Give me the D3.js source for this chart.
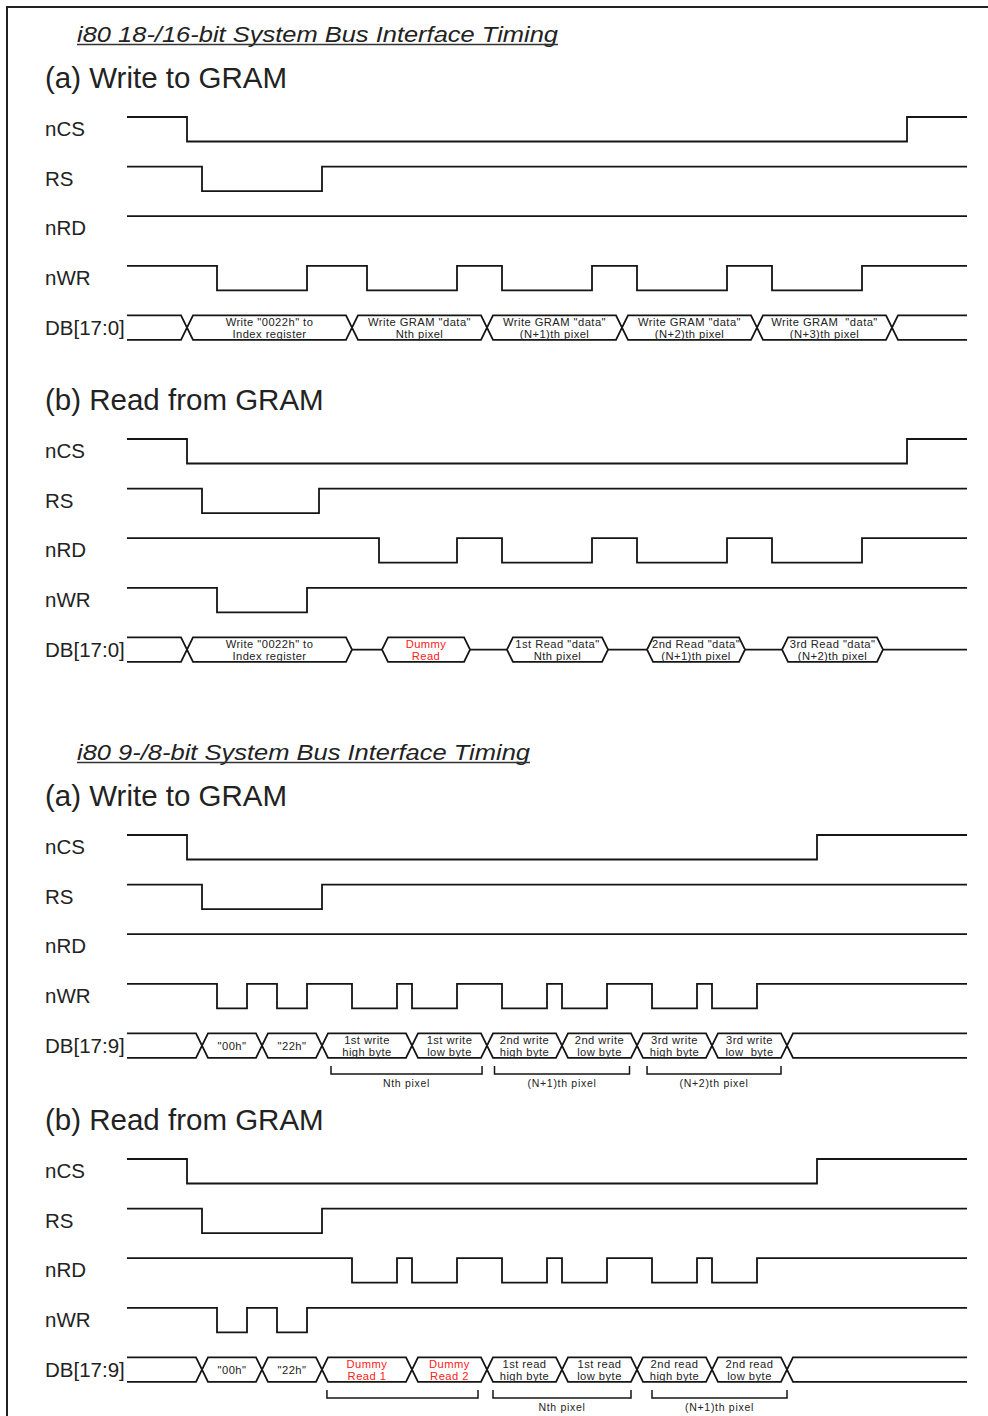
<!DOCTYPE html>
<html><head><meta charset="utf-8">
<script src="https://cdn.jsdelivr.net/npm/d3@7"></script>
<style>html,body{margin:0;padding:0;background:#fff;}svg{display:block;}</style>
</head><body>
<script>
// ---------- DATA ----------
const sectionTitles = ["i80 18-/16-bit System Bus Interface Timing", "i80 9-/8-bit System Bus Interface Timing"];
const panelTitles = ["(a) Write to GRAM", "(b) Read from GRAM", "(a) Write to GRAM", "(b) Read from GRAM"];
const signalNames = ["nCS", "RS", "nRD", "nWR"];
const busNames = ["DB[17:0]", "DB[17:0]", "DB[17:9]", "DB[17:9]"];
const timeDomain = [0, 56];

// toggle times (signal starts high)
const p1Edges = [[4, 52], [5, 13], [], [6, 12, 16, 22, 25, 31, 34, 40, 43, 49]];
const p2Edges = [[4, 52], [5, 12.8], [16.8, 22, 25, 31, 34, 40, 43, 49], [6, 12]];
const p3Edges = [[4, 46], [5, 13], [], [6, 8, 10, 12, 15, 18, 19, 22, 25, 28, 29, 32, 35, 38, 39, 42]];
const p4Edges = [[4, 46], [5, 13], [15, 18, 19, 22, 25, 28, 29, 32, 35, 38, 39, 42], [6, 8, 10, 12]];

// bus segments: [start, end, line1, line2, red?]
const p1Bus = [[0, 4, "", "", 0], [4, 15, 'Write "0022h" to', "Index register", 0], [15, 24, 'Write GRAM "data"', "Nth pixel", 0],
  [24, 33, 'Write GRAM "data"', "(N+1)th pixel", 0], [33, 42, 'Write GRAM "data"', "(N+2)th pixel", 0],
  [42, 51, 'Write GRAM  "data"', "(N+3)th pixel", 0], [51, 56, "", "", 0]];
const p2Bus = [[0, 4, "", "", 0], [4, 15, 'Write "0022h" to', "Index register", 0], [17, 22.87, "Dummy", "Read", 1],
  [25.33, 32.07, '1st Read "data"', "Nth pixel", 0], [34.67, 41.2, '2nd Read "data"', "(N+1)th pixel", 0],
  [43.67, 50.4, '3rd Read "data"', "(N+2)th pixel", 0]];
const p3Bus = [[0, 5, "", "", 0], [5, 9, '"00h"', "", 0], [9, 13, '"22h"', "", 0], [13, 19, "1st write", "high byte", 0],
  [19, 24, "1st write", "low byte", 0], [24, 29, "2nd write", "high byte", 0], [29, 34, "2nd write", "low byte", 0],
  [34, 39, "3rd write", "high byte", 0], [39, 44, "3rd write", "low  byte", 0], [44, 56, "", "", 0]];
const p4Bus = [[0, 5, "", "", 0], [5, 9, '"00h"', "", 0], [9, 13, '"22h"', "", 0], [13, 19, "Dummy", "Read 1", 1],
  [19, 24, "Dummy", "Read 2", 1], [24, 29, "1st read", "high byte", 0], [29, 34, "1st read", "low byte", 0],
  [34, 39, "2nd read", "high byte", 0], [39, 44, "2nd read", "low byte", 0], [44, 56, "", "", 0]];
const p3Brackets = [[13.6, 23.67, "Nth pixel"], [24.5, 33.5, "(N+1)th pixel"], [34.67, 43.6, "(N+2)th pixel"]];
const p4Brackets = [[13.33, 23.4, ""], [24.4, 33.6, "Nth pixel"], [35, 44, "(N+1)th pixel"]];

// ---------- LAYOUT ----------
const W = 988, H = 1416;
const panels = [
  {edges: p1Edges, bus: p1Bus, gaps: false, brackets: [], top: 117, section: 0, titleW: 481},
  {edges: p2Edges, bus: p2Bus, gaps: true, brackets: [], top: 439},
  {edges: p3Edges, bus: p3Bus, gaps: false, brackets: p3Brackets, top: 835, section: 1, titleW: 453},
  {edges: p4Edges, bus: p4Bus, gaps: false, brackets: p4Brackets, top: 1159}
];
const x = d3.scaleLinear().domain(timeDomain).range([127, 967]);
const rowPitch = 49.6, amp = 24.5, d = 6;
const FONT = "'Liberation Sans', Arial, Helvetica, sans-serif";
const INK = "#151515";

const svg = d3.select("body").append("svg").attr("width", W).attr("height", H);
svg.append("rect").attr("width", W).attr("height", H).attr("fill", "#fff");
// frame
svg.append("path").attr("d", `M7,${H} L7,7 L${W},7`).attr("fill", "none").attr("stroke", "#222").attr("stroke-width", 2);

const line = d3.line();

panels.forEach((p, pi) => {
  const g = svg.append("g");
  const y = d3.scaleLinear().domain([0, 1]).range([p.top, p.top + rowPitch]);
  if (p.section !== undefined) {
    g.append("text").attr("x", 77).attr("y", p.top - 75)
      .attr("font-family", FONT).attr("font-size", 22).attr("font-style", "italic").attr("fill", "#222")
      .attr("textLength", p.titleW).attr("lengthAdjust", "spacingAndGlyphs")
      .text(sectionTitles[p.section]);
    g.append("line").attr("x1", 77).attr("x2", 77 + p.titleW).attr("y1", p.top - 72.5).attr("y2", p.top - 72.5)
      .attr("stroke", "#333").attr("stroke-width", 1.5);
  }
  g.append("text").attr("x", 45).attr("y", p.top - 29).attr("font-family", FONT).attr("font-size", 29.5)
    .attr("fill", "#222").text(panelTitles[pi]);

  // digital signals
  signalNames.forEach((name, si) => {
    const hi = y(si), lo = hi + amp;
    g.append("text").attr("x", 45).attr("y", hi + amp / 2 + 7).attr("font-family", FONT).attr("font-size", 20.5)
      .attr("fill", "#222").text(name);
    const pts = [];
    let level = hi;
    pts.push([x(timeDomain[0]), level]);
    p.edges[si].forEach(t => {
      pts.push([x(t), level]);
      level = level === hi ? lo : hi;
      pts.push([x(t), level]);
    });
    pts.push([x(timeDomain[1]), level]);
    g.append("path").attr("d", line(pts)).attr("fill", "none").attr("stroke", INK).attr("stroke-width", 1.8);
  });

  // bus
  const top = y(4), bot = top + amp, mid = (top + bot) / 2;
  g.append("text").attr("x", 45).attr("y", mid + 7).attr("font-family", FONT).attr("font-size", 20.5)
    .attr("fill", "#222").text(busNames[pi]);
  const [t0, t1] = timeDomain;
  const bt = (sel) => sel.attr("text-anchor", "middle").attr("font-family", FONT).attr("font-size", 11.2)
    .attr("letter-spacing", 0.45).style("white-space", "pre");
  p.bus.forEach((s, k) => {
    const [a, b, l1, l2, red] = s;
    const xa = x(a), xb = x(b);
    const openL = a === t0, openR = b === t1;
    const topPts = [], botPts = [];
    if (openL) { topPts.push([xa, top]); botPts.push([xa, bot]); }
    else { topPts.push([xa, mid], [xa + d, top]); botPts.push([xa, mid], [xa + d, bot]); }
    if (openR) { topPts.push([xb, top]); botPts.push([xb, bot]); }
    else { topPts.push([xb - d, top], [xb, mid]); botPts.push([xb - d, bot], [xb, mid]); }
    g.append("path").attr("d", line(topPts)).attr("fill", "none").attr("stroke", INK).attr("stroke-width", 1.8);
    g.append("path").attr("d", line(botPts)).attr("fill", "none").attr("stroke", INK).attr("stroke-width", 1.8);
    const cx = (xa + xb) / 2, col = red ? "#ff2020" : "#222";
    if (l1 && l2) {
      bt(g.append("text")).attr("x", cx).attr("y", top + 10.5).attr("fill", col).text(l1);
      bt(g.append("text")).attr("x", cx).attr("y", bot - 2.3).attr("fill", col).text(l2);
    } else if (l1) {
      bt(g.append("text")).attr("x", cx).attr("y", mid + 4).attr("fill", col).text(l1);
    }
    // tri-state gap line
    if (p.gaps && !openR) {
      const next = p.bus[k + 1];
      const xe = next ? x(next[0]) : x(t1);
      g.append("path").attr("d", line([[xb, mid], [xe, mid]])).attr("stroke", INK).attr("stroke-width", 1.8);
    }
  });

  // brackets
  p.brackets.forEach(([a, b, lab]) => {
    const yt = bot + 8, yb = bot + 16;
    g.append("path").attr("d", line([[x(a), yt], [x(a), yb], [x(b), yb], [x(b), yt]]))
      .attr("fill", "none").attr("stroke", INK).attr("stroke-width", 1.5);
    if (lab) g.append("text").attr("x", (x(a) + x(b)) / 2).attr("y", yb + 13).attr("text-anchor", "middle")
      .attr("font-family", FONT).attr("font-size", 10.5).attr("letter-spacing", 0.7).attr("fill", "#222").text(lab);
  });
});
</script>
</body></html>
